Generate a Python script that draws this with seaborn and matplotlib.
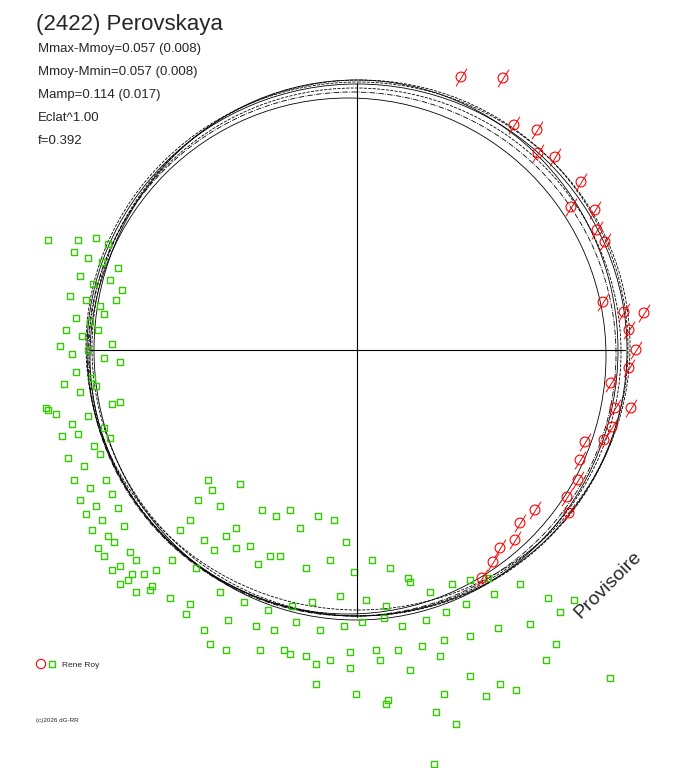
import numpy as np
import matplotlib
matplotlib.use("Agg")
import matplotlib.pyplot as plt
import seaborn as sns
from matplotlib.patches import Ellipse

sns.set_style("white")
plt.rcParams['font.family'] = ['Liberation Sans', 'DejaVu Sans']

title = "(2422) Perovskaya"
info = ["Mmax-Mmoy=0.057 (0.008)", "Mmoy-Mmin=0.057 (0.008)", "Mamp=0.114 (0.017)", "Eclat^1.00", "f=0.392"]
observer = "Rene Roy"

# red observations (picture coordinates)
red_x = [461,503,514,537,538,555,581,571,595,597,605,603,624,644,629,636,629,611,615,631,612,604,585,580,578,567,569,535,520,515,500,493,482]
red_y = [77,78,125,130,153,157,182,207,210,230,242,302,312,313,330,350,368,383,408,408,427,440,442,460,480,497,513,510,523,540,548,562,578]

# green observations (picture coordinates)
grn_x = [78,96,108,74,88,102,118,80,93,110,122,70,86,100,116,76,90,104,66,82,98,112,72,88,104,120,60,76,92,48,64,80,96,112,56,72,88,104,120,46,62,78,94,110,68,84,100,74,90,106,80,96,112,86,102,118,92,108,124,98,114,130,104,120,136,112,128,144,120,136,152,48,
          208,212,198,220,190,240,262,236,276,290,180,204,226,250,270,300,318,334,346,156,172,196,214,236,258,280,306,330,354,372,390,408,150,170,190,220,244,268,292,312,340,366,386,410,430,452,470,488,132,186,204,228,256,274,296,320,344,362,384,402,426,446,466,494,520,548,556,210,226,260,284,306,330,350,376,398,422,444,470,498,530,560,574,
          290,316,350,380,410,440,470,500,546,610,316,356,388,444,486,516,386,436,456,434]
grn_y = [240,238,244,252,258,262,268,276,284,280,290,296,300,306,300,318,322,314,330,336,330,344,354,350,358,362,346,372,378,410,384,392,386,404,414,424,416,428,402,408,436,434,446,438,458,466,454,480,488,480,500,506,494,514,520,508,530,536,526,548,542,552,556,566,560,570,580,574,584,592,586,240,
          480,490,500,506,520,484,510,528,516,510,530,540,536,546,556,528,516,520,542,570,560,568,550,548,564,556,568,560,572,560,568,578,590,598,604,592,602,610,606,602,596,600,606,582,592,584,580,578,574,614,630,620,626,630,622,630,626,622,618,626,620,612,604,594,584,598,644,644,650,650,650,656,660,652,650,650,646,640,636,628,624,612,600,
          654,664,668,660,670,656,676,684,660,678,684,694,700,694,696,690,704,712,724,764]

# model curve family (centre offsets, radii)
cx = [357, 355, 360, 352, 358, 356, 348]
cy = [350, 352, 348, 354, 346, 350, 356]
rx = [270, 266, 268, 264, 272, 262, 258]
ry = [266, 264, 268, 262, 264, 270, 258]
ls = ['-', '--', '--', '-.', '--', '-', '-']

fig = plt.figure(figsize=(6.88, 7.68), dpi=100)
ax = fig.add_axes([0, 0, 1, 1])
ax.set_xlim(0, 688)
ax.set_ylim(768, 0)
ax.axis('off')

ax.plot([90, 625], [350, 350], color='black', lw=0.8)
ax.plot([357, 357], [83, 617], color='black', lw=0.8)
for x0, y0, a, b, s in zip(cx, cy, rx, ry, ls):
    ax.add_patch(Ellipse((x0, y0), 2*a, 2*b, fill=False, ec='black', lw=0.6, ls=s))

green = '#33cc00'
ax.scatter(grn_x, grn_y, marker='s', s=24, facecolors='none', edgecolors=green, linewidths=1.0)
slash = [(-1.0, -1.6), (1.0, 1.6)]
ax.scatter(red_x, red_y, marker='o', s=50, facecolors='none', edgecolors='red', linewidths=0.8)
ax.scatter(red_x, red_y, marker=slash, s=160, color='red', linewidths=0.7)

ax.text(36, 30, title, fontsize=16)
for i, t in enumerate(info):
    ax.text(38, 52 + i*23, t, fontsize=9.5)
ax.scatter([41], [664], marker='o', s=45, facecolors='none', edgecolors='red', linewidths=0.8)
ax.scatter([52], [664], marker='s', s=24, facecolors='none', edgecolors=green, linewidths=1.0)
ax.text(62, 667, observer, fontsize=6)
ax.text(36, 722, "(c)2026 dG-RR", fontsize=4.5)
ax.text(580, 619, "Provisoire", fontsize=14, rotation=45, rotation_mode='anchor')
fig.savefig("out.png", dpi=100)
